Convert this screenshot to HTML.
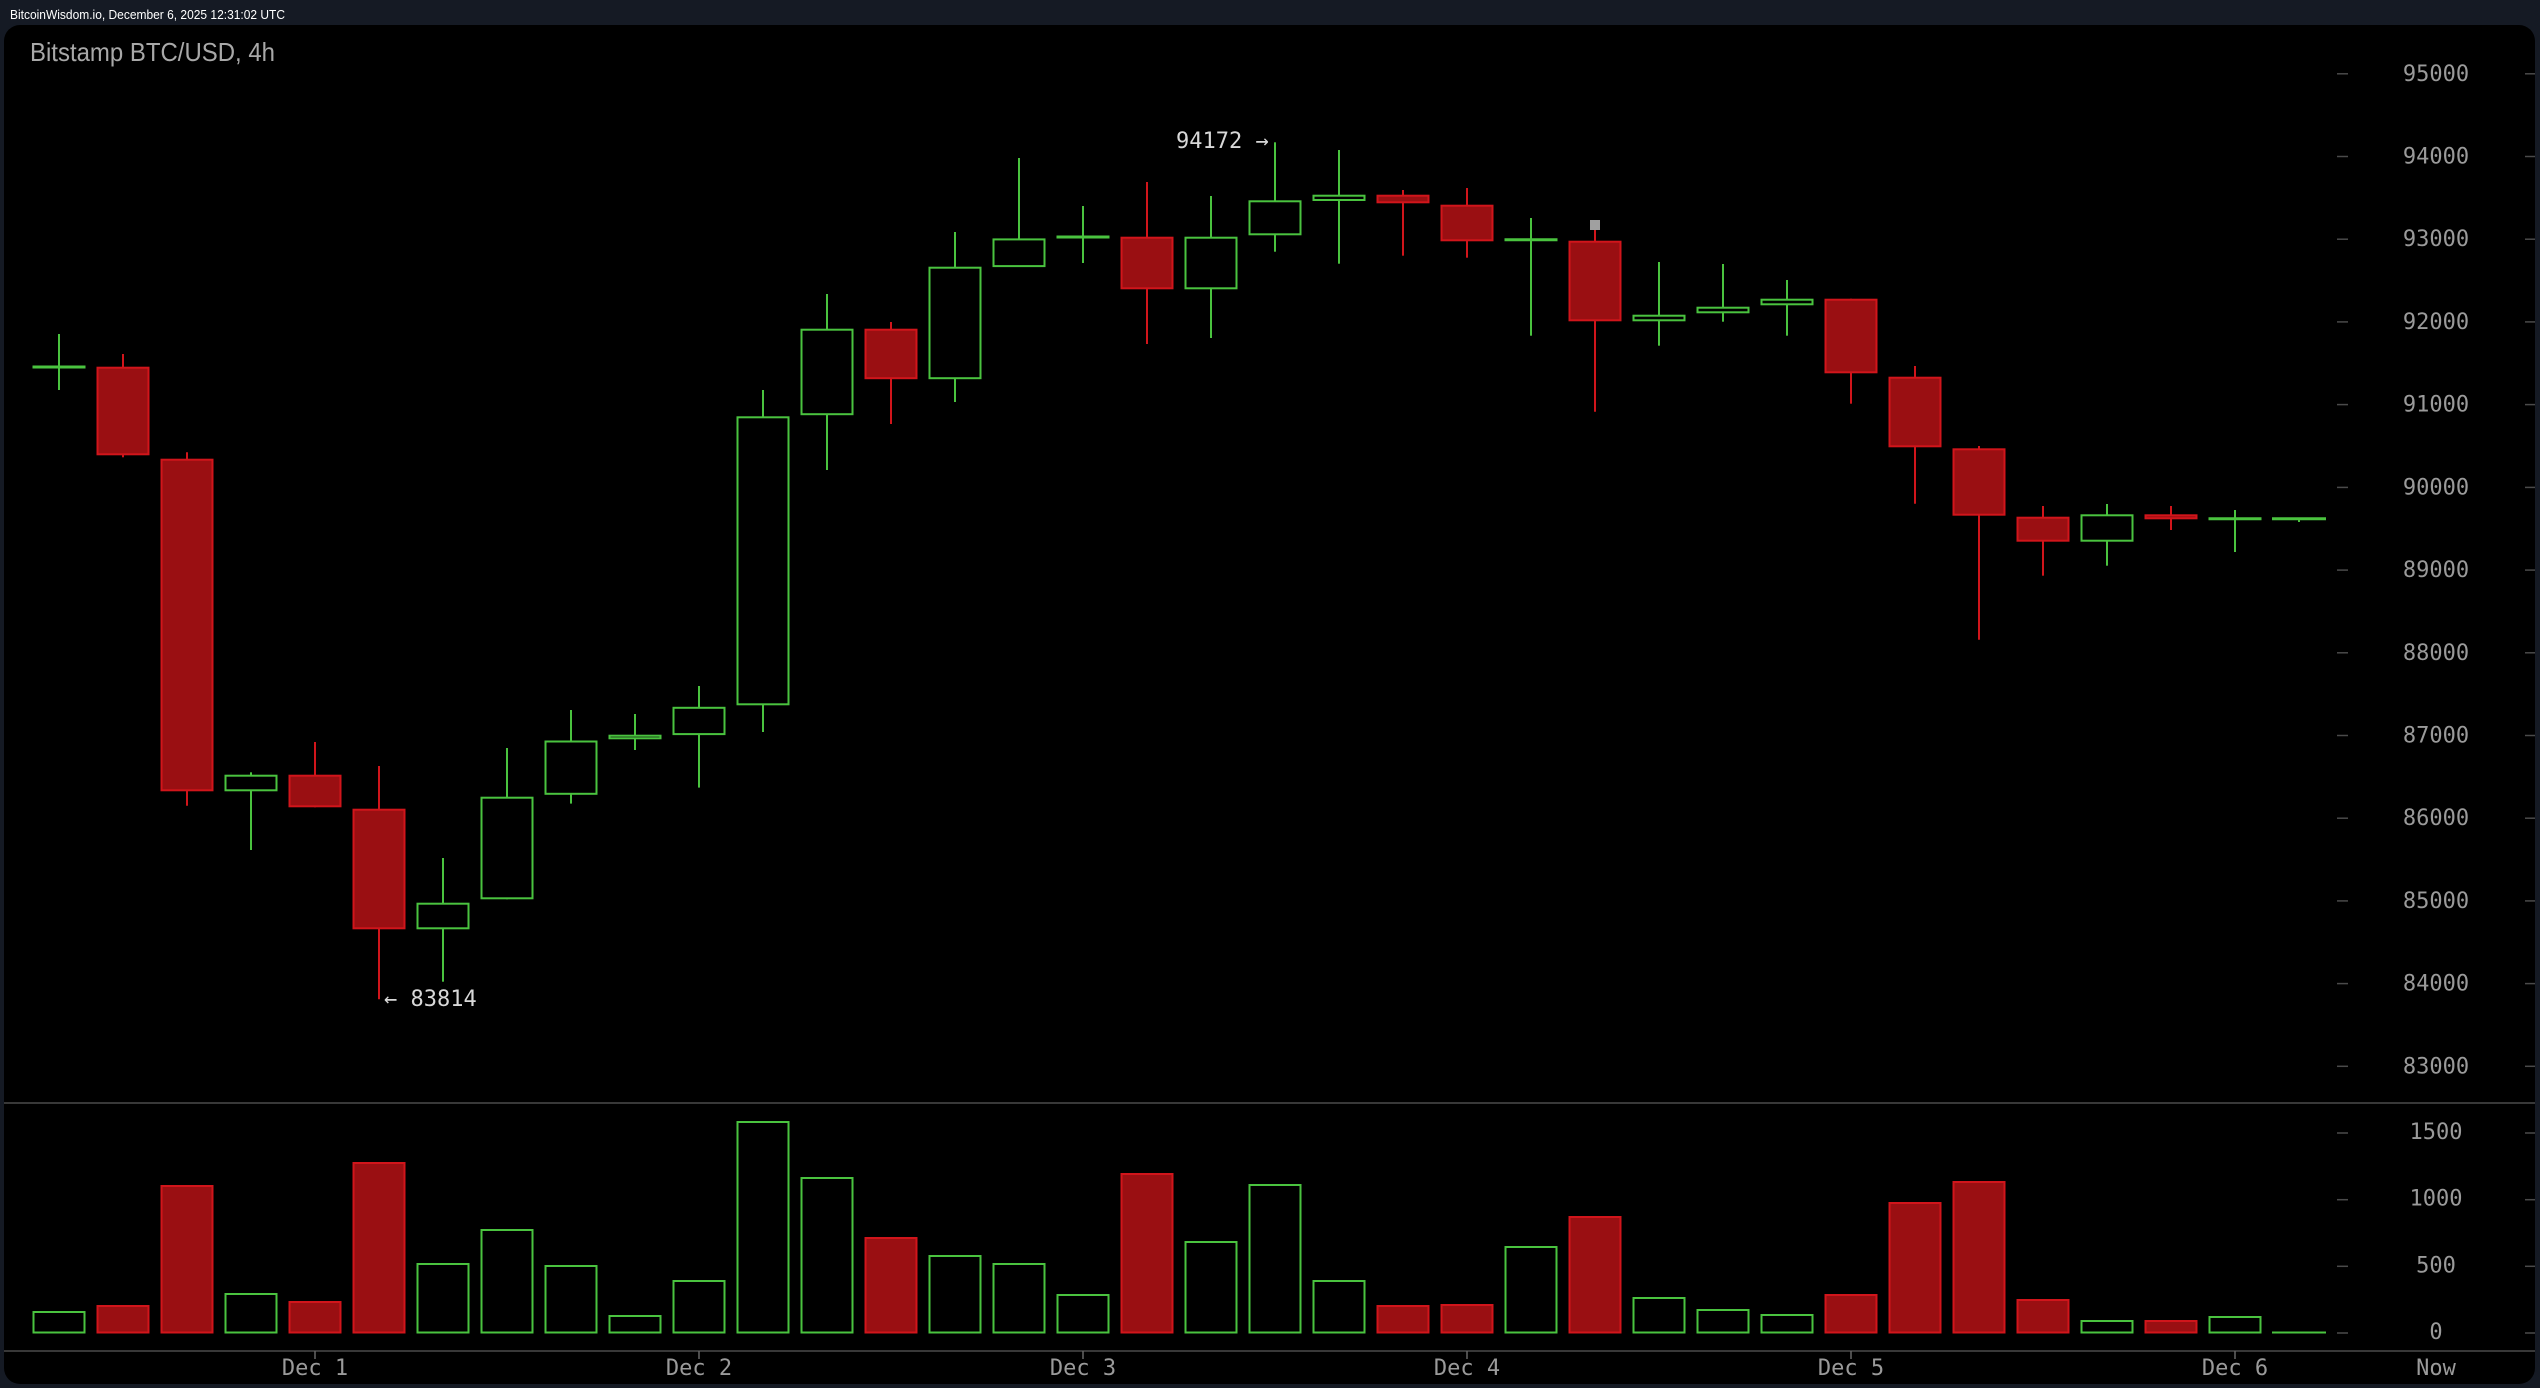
<!DOCTYPE html>
<html><head><meta charset="utf-8"><style>
html,body{margin:0;padding:0;background:#151a24;}
svg{display:block;}
.ax{font-family:"DejaVu Sans Mono","Liberation Mono",monospace;font-size:22px;fill:#9a9a9a;text-anchor:middle;}
.ann{font-family:"DejaVu Sans Mono","Liberation Mono",monospace;font-size:22px;fill:#d8d8d8;}
.g{stroke:#4ac33f;stroke-width:2;fill:#000;}
.r{stroke:#d1151b;stroke-width:2;fill:#9a0f12;}
.gw{stroke:#4ac33f;stroke-width:2;}
.rw{stroke:#d1151b;stroke-width:2;}
.gd{stroke:#4ac33f;stroke-width:3;}
.tk{stroke:#4a4a4a;stroke-width:1.5;}
</style></head><body>
<svg width="2540" height="1388" viewBox="0 0 2540 1388" xmlns="http://www.w3.org/2000/svg">
<rect x="0" y="0" width="2540" height="1388" fill="#151a24"/>
<text x="10" y="19" font-family="Liberation Sans, Arial, sans-serif" font-size="13" fill="#ffffff" textLength="275" lengthAdjust="spacingAndGlyphs">BitcoinWisdom.io, December 6, 2025 12:31:02 UTC</text>
<rect x="4" y="25" width="2531" height="1359" rx="16" ry="16" fill="#000"/>
<text x="30" y="61" font-family="Liberation Sans, Arial, sans-serif" font-size="26" fill="#a8a8a8" textLength="245" lengthAdjust="spacingAndGlyphs">Bitstamp BTC/USD, 4h</text>

<!-- separators -->
<line x1="4" y1="1103" x2="2535" y2="1103" stroke="#4a4a4a" stroke-width="1.5"/>
<line x1="4" y1="1351" x2="2535" y2="1351" stroke="#4a4a4a" stroke-width="1.5"/>

<!-- price axis -->
<g>
<line class="tk" x1="2337" y1="73.8" x2="2348" y2="73.8"/><line class="tk" x1="2525" y1="73.8" x2="2535" y2="73.8"/><text class="ax" x="2436" y="80.8">95000</text>
<line class="tk" x1="2337" y1="156.5" x2="2348" y2="156.5"/><line class="tk" x1="2525" y1="156.5" x2="2535" y2="156.5"/><text class="ax" x="2436" y="163.5">94000</text>
<line class="tk" x1="2337" y1="239.2" x2="2348" y2="239.2"/><line class="tk" x1="2525" y1="239.2" x2="2535" y2="239.2"/><text class="ax" x="2436" y="246.2">93000</text>
<line class="tk" x1="2337" y1="321.9" x2="2348" y2="321.9"/><line class="tk" x1="2525" y1="321.9" x2="2535" y2="321.9"/><text class="ax" x="2436" y="328.9">92000</text>
<line class="tk" x1="2337" y1="404.6" x2="2348" y2="404.6"/><line class="tk" x1="2525" y1="404.6" x2="2535" y2="404.6"/><text class="ax" x="2436" y="411.6">91000</text>
<line class="tk" x1="2337" y1="487.4" x2="2348" y2="487.4"/><line class="tk" x1="2525" y1="487.4" x2="2535" y2="487.4"/><text class="ax" x="2436" y="494.4">90000</text>
<line class="tk" x1="2337" y1="570.1" x2="2348" y2="570.1"/><line class="tk" x1="2525" y1="570.1" x2="2535" y2="570.1"/><text class="ax" x="2436" y="577.1">89000</text>
<line class="tk" x1="2337" y1="652.8" x2="2348" y2="652.8"/><line class="tk" x1="2525" y1="652.8" x2="2535" y2="652.8"/><text class="ax" x="2436" y="659.8">88000</text>
<line class="tk" x1="2337" y1="735.5" x2="2348" y2="735.5"/><line class="tk" x1="2525" y1="735.5" x2="2535" y2="735.5"/><text class="ax" x="2436" y="742.5">87000</text>
<line class="tk" x1="2337" y1="818.2" x2="2348" y2="818.2"/><line class="tk" x1="2525" y1="818.2" x2="2535" y2="818.2"/><text class="ax" x="2436" y="825.2">86000</text>
<line class="tk" x1="2337" y1="900.9" x2="2348" y2="900.9"/><line class="tk" x1="2525" y1="900.9" x2="2535" y2="900.9"/><text class="ax" x="2436" y="907.9">85000</text>
<line class="tk" x1="2337" y1="983.6" x2="2348" y2="983.6"/><line class="tk" x1="2525" y1="983.6" x2="2535" y2="983.6"/><text class="ax" x="2436" y="990.6">84000</text>
<line class="tk" x1="2337" y1="1066.3" x2="2348" y2="1066.3"/><line class="tk" x1="2525" y1="1066.3" x2="2535" y2="1066.3"/><text class="ax" x="2436" y="1073.3">83000</text>
</g>

<!-- volume axis -->
<g>
<line class="tk" x1="2337" y1="1133" x2="2348" y2="1133"/><line class="tk" x1="2525" y1="1133" x2="2535" y2="1133"/><text class="ax" x="2436" y="1139">1500</text>
<line class="tk" x1="2337" y1="1199.7" x2="2348" y2="1199.7"/><line class="tk" x1="2525" y1="1199.7" x2="2535" y2="1199.7"/><text class="ax" x="2436" y="1205.7">1000</text>
<line class="tk" x1="2337" y1="1266.3" x2="2348" y2="1266.3"/><line class="tk" x1="2525" y1="1266.3" x2="2535" y2="1266.3"/><text class="ax" x="2436" y="1272.3">500</text>
<line class="tk" x1="2337" y1="1333" x2="2348" y2="1333"/><line class="tk" x1="2525" y1="1333" x2="2535" y2="1333"/><text class="ax" x="2436" y="1339">0</text>
</g>

<!-- date axis -->
<g>
<line x1="315" y1="1351" x2="315" y2="1359" stroke="#666" stroke-width="1.5"/><text class="ax" x="315" y="1375">Dec 1</text>
<line x1="699" y1="1351" x2="699" y2="1359" stroke="#666" stroke-width="1.5"/><text class="ax" x="699" y="1375">Dec 2</text>
<line x1="1083" y1="1351" x2="1083" y2="1359" stroke="#666" stroke-width="1.5"/><text class="ax" x="1083" y="1375">Dec 3</text>
<line x1="1467" y1="1351" x2="1467" y2="1359" stroke="#666" stroke-width="1.5"/><text class="ax" x="1467" y="1375">Dec 4</text>
<line x1="1851" y1="1351" x2="1851" y2="1359" stroke="#666" stroke-width="1.5"/><text class="ax" x="1851" y="1375">Dec 5</text>
<line x1="2235" y1="1351" x2="2235" y2="1359" stroke="#666" stroke-width="1.5"/><text class="ax" x="2235" y="1375">Dec 6</text>
<text class="ax" x="2436" y="1375">Now</text>
</g>

<!-- candles -->
<g>
<!-- 0 -->
<line class="gw" x1="59" y1="334" x2="59" y2="390"/><line class="gd" x1="32.5" y1="367" x2="85.5" y2="367"/>
<!-- 1 -->
<line class="rw" x1="123" y1="354" x2="123" y2="457.3"/><rect class="r" x="97.5" y="367.7" width="51" height="86.6"/>
<!-- 2 -->
<line class="rw" x1="187" y1="452.3" x2="187" y2="805.7"/><rect class="r" x="161.5" y="459.7" width="51" height="330.6"/>
<!-- 3 -->
<line class="gw" x1="251" y1="772.3" x2="251" y2="850"/><rect class="g" x="225.5" y="775.7" width="51" height="14.6"/>
<!-- 4 -->
<line class="rw" x1="315" y1="742" x2="315" y2="807.3"/><rect class="r" x="289.5" y="775.7" width="51" height="30.6"/>
<!-- 5 -->
<line class="rw" x1="379" y1="766" x2="379" y2="999.3"/><rect class="r" x="353.5" y="809.7" width="51" height="118.6"/>
<!-- 6 -->
<line class="gw" x1="443" y1="858" x2="443" y2="981.7"/><rect class="g" x="417.5" y="903.7" width="51" height="24.6"/>
<!-- 7 -->
<line class="gw" x1="507" y1="748" x2="507" y2="899.3"/><rect class="g" x="481.5" y="797.7" width="51" height="100.6"/>
<!-- 8 -->
<line class="gw" x1="571" y1="710" x2="571" y2="803.6"/><rect class="g" x="545.5" y="741.5" width="51" height="52.3"/>
<!-- 9 -->
<line class="gw" x1="635" y1="714" x2="635" y2="750"/><rect class="g" x="609.5" y="735.7" width="51" height="2.6"/>
<!-- 10 -->
<line class="gw" x1="699" y1="686" x2="699" y2="787.6"/><rect class="g" x="673.5" y="707.8" width="51" height="26.3"/>
<!-- 11 -->
<line class="gw" x1="763" y1="390" x2="763" y2="732"/><rect class="g" x="737.5" y="417.3" width="51" height="287"/>
<!-- 12 -->
<line class="gw" x1="827" y1="294" x2="827" y2="470"/><rect class="g" x="801.5" y="329.7" width="51" height="84.5"/>
<!-- 13 -->
<line class="rw" x1="891" y1="322" x2="891" y2="424"/><rect class="r" x="865.5" y="329.7" width="51" height="48.5"/>
<!-- 14 -->
<line class="gw" x1="955" y1="232" x2="955" y2="402"/><rect class="g" x="929.5" y="267.7" width="51" height="110.5"/>
<!-- 15 -->
<line class="gw" x1="1019" y1="158" x2="1019" y2="267"/><rect class="g" x="993.5" y="239.4" width="51" height="26.7"/>
<!-- 16 -->
<line class="gw" x1="1083" y1="206" x2="1083" y2="263"/><line class="gd" x1="1056.5" y1="237" x2="1109.5" y2="237"/>
<!-- 17 -->
<line class="rw" x1="1147" y1="182" x2="1147" y2="344"/><rect class="r" x="1121.5" y="237.7" width="51" height="50.6"/>
<!-- 18 -->
<line class="gw" x1="1211" y1="196" x2="1211" y2="338"/><rect class="g" x="1185.5" y="237.7" width="51" height="50.6"/>
<!-- 19 -->
<line class="gw" x1="1275" y1="142.3" x2="1275" y2="251.7"/><rect class="g" x="1249.5" y="201.3" width="51" height="33"/>
<!-- 20 -->
<line class="gw" x1="1339" y1="150" x2="1339" y2="263.7"/><rect class="g" x="1313.5" y="195.7" width="51" height="4.3"/>
<!-- 21 -->
<line class="rw" x1="1403" y1="190" x2="1403" y2="255.7"/><rect class="r" x="1377.5" y="195.7" width="51" height="6.6"/>
<!-- 22 -->
<line class="rw" x1="1467" y1="188" x2="1467" y2="257.7"/><rect class="r" x="1441.5" y="205.7" width="51" height="34.6"/>
<!-- 23 -->
<line class="gw" x1="1531" y1="218" x2="1531" y2="335.7"/><line class="gd" x1="1504.5" y1="239.7" x2="1557.5" y2="239.7"/>
<!-- 24 -->
<line class="rw" x1="1595" y1="224" x2="1595" y2="411.7"/><rect class="r" x="1569.5" y="241.7" width="51" height="78.6"/>
<rect x="1590" y="220" width="10" height="10" fill="#a0a0a0"/>
<!-- 25 -->
<line class="gw" x1="1659" y1="262" x2="1659" y2="345.7"/><rect class="g" x="1633.5" y="315.7" width="51" height="4.6"/>
<!-- 26 -->
<line class="gw" x1="1723" y1="264" x2="1723" y2="321.7"/><rect class="g" x="1697.5" y="307.7" width="51" height="4.6"/>
<!-- 27 -->
<line class="gw" x1="1787" y1="280" x2="1787" y2="335.7"/><rect class="g" x="1761.5" y="299.7" width="51" height="4.6"/>
<!-- 28 -->
<line class="rw" x1="1851" y1="298.7" x2="1851" y2="403.7"/><rect class="r" x="1825.5" y="299.7" width="51" height="72.6"/>
<!-- 29 -->
<line class="rw" x1="1915" y1="366" x2="1915" y2="503.7"/><rect class="r" x="1889.5" y="377.7" width="51" height="68.6"/>
<!-- 30 -->
<line class="rw" x1="1979" y1="446" x2="1979" y2="639.7"/><rect class="r" x="1953.5" y="449.3" width="51" height="65.4"/>
<!-- 31 -->
<line class="rw" x1="2043" y1="506" x2="2043" y2="575.7"/><rect class="r" x="2017.5" y="517.7" width="51" height="23"/>
<!-- 32 -->
<line class="gw" x1="2107" y1="504" x2="2107" y2="565.7"/><rect class="g" x="2081.5" y="515.3" width="51" height="25.4"/>
<!-- 33 -->
<line class="rw" x1="2171" y1="506" x2="2171" y2="530"/><rect class="r" x="2145.5" y="515.3" width="51" height="3"/>
<!-- 34 -->
<line class="gw" x1="2235" y1="510" x2="2235" y2="552"/><line class="gd" x1="2208.5" y1="518.7" x2="2261.5" y2="518.7"/>
<!-- 35 -->
<line class="gw" x1="2299" y1="518.7" x2="2299" y2="522"/><line class="gd" x1="2272" y1="518.7" x2="2326" y2="518.7"/>
</g>

<!-- annotations -->
<text class="ann" x="1176" y="148">94172 →</text>
<text class="ann" x="384" y="1006">← 83814</text>

<!-- volume -->
<g>
<rect class="g" x="33.5" y="1312" width="51" height="20.5"/>
<rect class="r" x="97.5" y="1306" width="51" height="26.5"/>
<rect class="r" x="161.5" y="1186" width="51" height="146.5"/>
<rect class="g" x="225.5" y="1294" width="51" height="38.5"/>
<rect class="r" x="289.5" y="1302" width="51" height="30.5"/>
<rect class="r" x="353.5" y="1163" width="51" height="169.5"/>
<rect class="g" x="417.5" y="1264" width="51" height="68.5"/>
<rect class="g" x="481.5" y="1230" width="51" height="102.5"/>
<rect class="g" x="545.5" y="1266" width="51" height="66.5"/>
<rect class="g" x="609.5" y="1316" width="51" height="16.5"/>
<rect class="g" x="673.5" y="1281" width="51" height="51.5"/>
<rect class="g" x="737.5" y="1122" width="51" height="210.5"/>
<rect class="g" x="801.5" y="1178" width="51" height="154.5"/>
<rect class="r" x="865.5" y="1238" width="51" height="94.5"/>
<rect class="g" x="929.5" y="1256" width="51" height="76.5"/>
<rect class="g" x="993.5" y="1264" width="51" height="68.5"/>
<rect class="g" x="1057.5" y="1295" width="51" height="37.5"/>
<rect class="r" x="1121.5" y="1174" width="51" height="158.5"/>
<rect class="g" x="1185.5" y="1242" width="51" height="90.5"/>
<rect class="g" x="1249.5" y="1185" width="51" height="147.5"/>
<rect class="g" x="1313.5" y="1281" width="51" height="51.5"/>
<rect class="r" x="1377.5" y="1306" width="51" height="26.5"/>
<rect class="r" x="1441.5" y="1305" width="51" height="27.5"/>
<rect class="g" x="1505.5" y="1247" width="51" height="85.5"/>
<rect class="r" x="1569.5" y="1217" width="51" height="115.5"/>
<rect class="g" x="1633.5" y="1298" width="51" height="34.5"/>
<rect class="g" x="1697.5" y="1310" width="51" height="22.5"/>
<rect class="g" x="1761.5" y="1315" width="51" height="17.5"/>
<rect class="r" x="1825.5" y="1295" width="51" height="37.5"/>
<rect class="r" x="1889.5" y="1203" width="51" height="129.5"/>
<rect class="r" x="1953.5" y="1182" width="51" height="150.5"/>
<rect class="r" x="2017.5" y="1300" width="51" height="32.5"/>
<rect class="g" x="2081.5" y="1321" width="51" height="11.5"/>
<rect class="r" x="2145.5" y="1321" width="51" height="11.5"/>
<rect class="g" x="2209.5" y="1317" width="51" height="15.5"/>
<line class="gw" x1="2272" y1="1332.5" x2="2326" y2="1332.5"/>
</g>
</svg>
</body></html>
